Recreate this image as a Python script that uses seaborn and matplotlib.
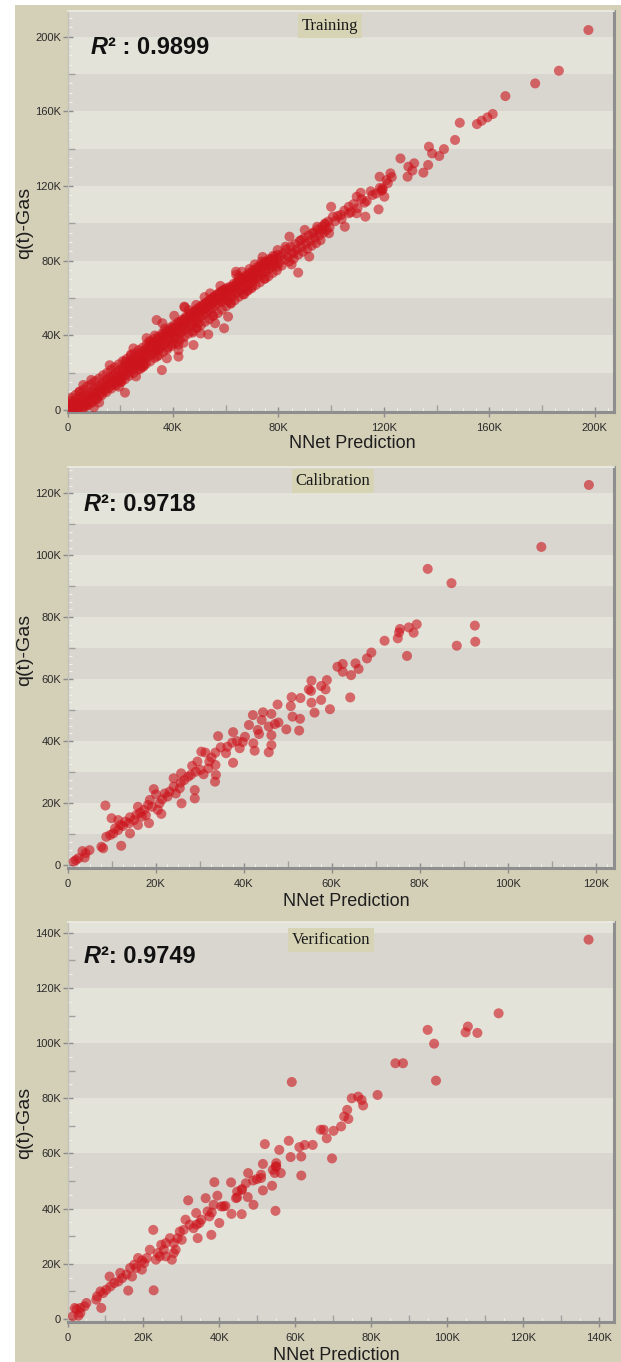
import numpy as np
import pandas as pd
import matplotlib
matplotlib.use("Agg")
import matplotlib.pyplot as plt
import seaborn as sns
from matplotlib.patches import Rectangle
from matplotlib.ticker import MultipleLocator, FuncFormatter

# ---------------- data (values in thousands) ----------------
titles = ["Training", "Calibration", "Verification"]
r2_values = ["0.9899", "0.9718", "0.9749"]
r2_seps = [" : ", ": ", ": "]
x_label = "NNet Prediction"
y_label = "q(t)-Gas"

train_band_0_20 = [
    (0.3, 1.0), (0.5, 3.5), (1.0, 2.0), (1.2, 5.0), (1.8, 0.8), (2.0, 3.2), (2.5, 4.6), (2.7, 1.5),
    (3.1, 2.8), (3.5, 5.9), (3.8, 0.9), (4.2, 4.0), (4.6, 2.3), (5.0, 6.8), (5.3, 3.9), (5.7, 1.8),
    (6.1, 5.4), (6.4, 7.9), (6.8, 4.2), (7.2, 2.9), (7.5, 6.6), (7.9, 9.0), (8.3, 5.1), (8.6, 7.7),
    (9.0, 3.8), (9.4, 10.1), (9.8, 6.9), (10.1, 8.8), (10.5, 11.5), (10.9, 5.9), (11.3, 9.6),
    (11.7, 12.4), (12.0, 7.8), (12.4, 10.9), (12.8, 13.6), (13.1, 9.2), (13.5, 12.0), (13.9, 15.1),
    (14.2, 10.4), (14.6, 13.3), (15.0, 16.4), (15.4, 11.6), (15.7, 14.2), (16.1, 17.3), (16.5, 12.9),
    (16.9, 15.6), (17.2, 18.6), (17.6, 14.0), (18.0, 16.8), (18.4, 20.1), (18.7, 15.3), (19.1, 17.9),
    (19.5, 21.2), (19.9, 16.6),
    (1.5, 6.6), (3.0, 8.0), (4.5, 9.6), (6.0, 10.9), (7.5, 12.6), (9.0, 13.9), (10.5, 15.5),
    (12.0, 16.9), (13.5, 18.6), (15.0, 19.9), (16.5, 21.6), (18.0, 22.9), (19.5, 24.5),
    (2.2, -0.5), (4.0, -0.1), (5.8, 0.9), (7.6, 2.5), (9.4, 4.3), (11.2, 6.0), (13.0, 7.9),
    (14.8, 9.6), (16.6, 11.5), (18.4, 13.2),
]
train_band_20_40 = [
    (20.3, 19.0), (20.7, 22.4), (21.0, 17.8), (21.4, 20.6), (21.8, 23.7), (22.2, 19.1), (22.5, 21.8),
    (22.9, 25.0), (23.3, 20.3), (23.7, 23.1), (24.0, 26.2), (24.4, 21.6), (24.8, 24.4), (25.2, 27.5),
    (25.5, 22.9), (25.9, 25.6), (26.3, 28.8), (26.7, 24.1), (27.0, 26.9), (27.4, 30.0), (27.8, 25.4),
    (28.2, 28.1), (28.5, 31.3), (28.9, 26.6), (29.3, 29.4), (29.7, 32.5), (30.0, 27.9), (30.4, 30.7),
    (30.8, 33.8), (31.2, 29.1), (31.5, 31.9), (31.9, 35.1), (32.3, 30.3), (32.7, 33.2), (33.0, 36.4),
    (33.4, 31.6), (33.8, 34.5), (34.2, 37.6), (34.5, 32.9), (34.9, 35.8), (35.3, 38.9), (35.7, 34.1),
    (36.0, 37.0), (36.4, 40.2), (36.8, 35.4), (37.2, 38.3), (37.5, 41.4), (37.9, 36.6), (38.3, 39.6),
    (38.7, 42.7), (39.0, 37.9), (39.4, 40.8), (39.8, 44.0), (40.0, 35.5),
    (20.5, 15.2), (24.1, 29.8), (27.6, 22.0), (31.0, 36.9), (34.0, 28.7), (36.9, 43.6), (38.1, 33.5),
    (21.9, 26.0), (29.0, 24.2), (33.1, 39.9),
    (21.0, 26.2), (22.5, 27.4), (24.0, 29.1), (25.5, 30.4), (27.0, 32.1), (28.5, 33.4), (30.0, 35.1),
    (31.5, 36.4), (33.0, 38.2), (34.5, 39.4), (36.0, 41.1), (37.5, 42.4), (39.0, 44.2),
    (20.2, 15.0), (21.8, 16.5), (23.4, 18.3), (25.0, 19.8), (26.6, 21.5), (28.2, 23.0), (29.8, 24.7),
    (31.4, 26.1), (33.0, 27.9), (34.6, 29.4), (36.2, 31.1), (37.8, 32.5), (39.4, 34.3),
]
train_band_40_60 = [
    (40.2, 41.3), (40.6, 38.6), (41.0, 44.6), (41.3, 39.8), (41.7, 42.5), (42.1, 46.2), (42.5, 40.9),
    (42.8, 43.8), (43.2, 47.3), (43.6, 42.1), (44.0, 45.0), (44.3, 48.6), (44.7, 43.4), (45.1, 46.3),
    (45.5, 49.7), (45.8, 44.6), (46.2, 47.5), (46.6, 51.0), (47.0, 45.9), (47.3, 48.8), (47.7, 52.2),
    (48.1, 47.1), (48.5, 50.0), (48.8, 53.4), (49.2, 48.4), (49.6, 51.3), (50.0, 54.6), (50.3, 49.6),
    (50.7, 52.5), (51.1, 55.8), (51.5, 50.9), (51.8, 53.8), (52.2, 57.0), (52.6, 52.1), (53.0, 55.0),
    (53.3, 58.2), (53.7, 53.4), (54.1, 56.3), (54.5, 59.4), (54.8, 54.6), (55.2, 57.5), (55.6, 60.7),
    (56.0, 55.9), (56.3, 58.8), (56.7, 61.9), (57.1, 57.1), (57.5, 60.0), (57.8, 63.1), (58.2, 58.4),
    (58.6, 61.3), (59.0, 64.3), (59.3, 59.6), (59.7, 62.5),
    (42.0, 35.0), (46.0, 53.5), (49.0, 44.0), (52.0, 60.5), (55.0, 50.5), (58.0, 66.5), (44.5, 55.0),
    (47.5, 41.5),
    (40.5, 45.6), (42.0, 47.1), (43.5, 48.4), (45.0, 50.1), (46.5, 51.6), (48.0, 52.9), (49.5, 54.6),
    (51.0, 56.1), (52.5, 57.4), (54.0, 59.1), (55.5, 60.6), (57.0, 61.9), (58.5, 63.6),
    (41.0, 35.9), (42.6, 37.6), (44.2, 39.1), (45.8, 40.9), (47.4, 42.3), (49.0, 44.1), (50.6, 45.5),
    (52.2, 47.3), (53.8, 48.7), (55.4, 50.5), (57.0, 51.9), (58.6, 53.7),
]
train_band_60_80 = [
    (60.1, 60.8), (60.5, 63.7), (60.9, 58.5), (61.3, 62.2), (61.7, 65.3), (62.1, 60.4), (62.5, 63.6),
    (62.9, 66.4), (63.3, 61.8), (63.7, 64.9), (64.1, 67.7), (64.5, 63.1), (64.9, 66.1), (65.3, 69.0),
    (65.7, 64.4), (66.1, 67.4), (66.5, 70.2), (66.9, 65.6), (67.3, 68.6), (67.7, 71.4), (68.1, 66.9),
    (68.5, 69.8), (68.9, 72.6), (69.3, 68.1), (69.7, 71.0), (70.1, 73.8), (70.5, 69.4), (70.9, 72.3),
    (71.3, 75.0), (71.7, 70.6), (72.1, 73.5), (72.5, 76.1), (72.9, 71.9), (73.3, 74.7), (73.7, 77.3),
    (74.1, 73.1), (74.5, 76.0), (74.9, 78.5), (75.3, 74.4), (75.7, 77.2), (76.1, 79.6), (76.5, 75.6),
    (76.9, 78.4), (77.3, 80.8), (77.7, 76.9), (78.1, 79.6), (78.5, 82.0), (78.9, 78.1), (79.3, 80.9),
    (79.7, 83.2),
    (62.0, 57.0), (67.0, 62.0), (71.0, 78.0), (65.0, 71.5), (75.0, 70.5), (69.0, 75.5),
    (60.0, 64.6), (61.5, 66.0), (63.0, 67.6), (64.5, 68.9), (66.0, 70.6), (67.5, 71.9), (69.0, 73.6),
    (70.5, 74.9), (72.0, 76.6), (73.5, 77.9), (75.0, 79.6), (76.5, 80.9), (78.0, 82.6),
    (60.2, 55.6), (61.8, 57.4), (63.4, 58.8), (65.0, 60.6), (66.6, 62.0), (68.2, 63.8), (69.8, 65.2),
    (71.4, 67.0), (73.0, 68.4), (74.6, 70.2), (76.2, 71.6), (77.8, 73.4), (79.4, 74.8),
]
train_band_80_125 = [
    (80.2, 79.0), (80.8, 82.5), (81.3, 77.4), (81.9, 84.0), (82.4, 80.6), (83.0, 86.1), (83.6, 82.2),
    (84.1, 79.5), (84.7, 87.5), (85.3, 84.3), (85.8, 81.0), (86.4, 88.9), (87.0, 86.0), (87.5, 83.2),
    (88.1, 90.6), (88.7, 87.4), (89.2, 84.8), (89.8, 92.2), (90.4, 89.1), (90.9, 86.3), (91.5, 93.5),
    (92.1, 90.6), (92.6, 88.0), (93.2, 95.1), (93.8, 92.3), (94.3, 89.4), (94.9, 96.8), (95.5, 93.6),
    (96.0, 91.0), (96.6, 98.2), (97.2, 95.1), (97.7, 99.5), (98.3, 96.5), (98.9, 101.0), (99.4, 97.9),
    (101.5, 101.2), (102.5, 104.0), (104.0, 102.3), (105.0, 106.8), (107.5, 106.0), (108.5, 110.3),
    (110.0, 108.2), (111.5, 113.0), (113.5, 112.0), (115.0, 117.2), (117.0, 116.0), (118.5, 119.0),
    (119.5, 118.0), (121.5, 121.5), (123.0, 124.8),
]
train_fringe = [
    (47.8, 34.8), (37.7, 27.7), (28.8, 23.2), (20.0, 16.1), (70.0, 66.1), (25.0, 33.0), (30.0, 38.5),
    (40.5, 50.5), (16.0, 24.0), (12.0, 4.0), (50.5, 41.0), (56.0, 46.5), (64.0, 72.5), (74.0, 82.0),
    (85.0, 78.0), (90.0, 96.5), (36.0, 46.5), (44.0, 36.0), (10.0, 1.5), (26.0, 18.0),
]
train_outliers = [
    (197.6, 203.6), (186.4, 181.8), (177.4, 175.0), (166.1, 168.2), (161.3, 158.6), (159.3, 156.8),
    (157.1, 155.0), (155.3, 153.2), (148.8, 153.9), (147.0, 144.7), (142.8, 139.8), (141.0, 136.1),
    (137.1, 141.1), (138.3, 137.5), (136.8, 131.3), (135.0, 127.2), (131.5, 132.2), (129.3, 130.4),
    (129.0, 125.0), (126.3, 134.8), (130.8, 128.3), (122.5, 126.8), (121.0, 123.2), (118.4, 125.0),
    (119.5, 118.8), (119.0, 117.5), (120.2, 114.3), (118.0, 107.5), (115.7, 115.2), (112.7, 111.1),
    (111.2, 116.4), (109.7, 114.3), (113.0, 103.6), (109.7, 105.4), (106.7, 108.9), (106.7, 105.4),
    (105.2, 98.2), (103.7, 104.5), (100.0, 108.9), (100.7, 103.6), (99.2, 94.7), (97.7, 100.0),
    (96.2, 96.4), (94.7, 98.2), (93.2, 94.7), (91.7, 82.2), (87.5, 73.6), (88.7, 91.1), (84.2, 92.9),
    (85.7, 83.9), (79.7, 76.8), (79.7, 85.7), (82.7, 87.5), (78.2, 80.4), (73.6, 79.5), (70.6, 71.4),
    (66.1, 74.1), (63.9, 74.1), (68.4, 64.3), (60.1, 65.2), (58.6, 58.0), (60.9, 50.0), (54.1, 62.5),
    (48.8, 56.3), (44.3, 55.4), (49.6, 46.4), (53.4, 40.5), (59.4, 43.8), (33.8, 48.2), (42.1, 32.1),
    (42.1, 28.6), (35.8, 21.4), (34.6, 32.1), (21.8, 9.3), (19.5, 12.5), (6.0, 13.4), (9.0, 16.1),
    (4.5, 9.8), (6.8, 1.8),
]

calib_points = [
    (118.4, 122.7), (107.6, 102.7), (81.8, 95.6), (87.2, 91.0), (92.5, 77.3), (92.6, 72.1), (88.4, 70.8),
    (79.3, 77.7), (78.6, 75.0), (77.5, 76.7), (75.5, 76.2), (75.3, 75.1), (75.0, 73.2), (77.1, 67.5),
    (72.0, 72.4), (69.0, 68.6), (68.0, 66.7), (66.1, 63.3), (65.4, 65.1), (64.4, 61.3), (64.2, 54.1),
    (62.5, 64.9), (61.3, 64.0), (62.5, 62.4), (58.9, 59.7), (58.6, 56.7), (57.6, 57.8), (59.6, 50.3),
    (55.4, 59.5), (55.3, 56.2), (54.8, 56.7), (57.6, 53.3), (56.1, 49.2), (55.4, 52.4), (52.9, 53.9),
    (50.9, 54.2), (50.7, 51.3), (51.1, 47.9), (52.8, 47.2), (52.6, 43.4), (49.7, 43.8), (47.7, 51.8),
    (47.9, 46.0), (47.1, 45.5), (46.3, 48.8), (45.7, 44.7), (46.3, 41.9), (46.3, 38.7), (45.7, 36.4),
    (44.4, 49.3), (44.1, 46.8), (42.1, 48.4), (43.2, 43.6), (43.5, 42.3), (42.2, 39.3), (42.5, 36.9),
    (41.2, 45.2), (40.3, 41.4), (39.8, 39.7), (38.5, 40.0), (39.1, 37.7), (37.6, 42.9), (37.4, 39.5),
    (36.3, 38.2), (36.0, 36.1), (37.6, 33.0), (34.2, 41.6), (34.8, 38.0), (33.6, 36.3), (32.7, 34.7),
    (32.2, 33.4), (31.3, 36.3), (30.4, 36.6), (33.6, 32.3), (33.7, 29.1), (33.5, 26.9), (32.0, 31.2),
    (29.5, 33.4), (30.2, 30.7), (30.9, 29.3), (29.1, 30.1), (28.3, 32.0), (28.0, 29.1), (28.9, 24.2),
    (28.9, 21.5), (27.4, 28.5), (26.5, 27.4), (25.8, 29.6), (25.7, 26.6), (25.5, 24.8), (24.1, 28.0),
    (24.1, 25.3), (24.6, 23.1), (25.9, 19.9), (23.2, 23.7), (22.7, 22.1), (22.1, 23.1), (21.5, 21.2),
    (20.9, 19.9), (20.1, 22.8), (19.6, 24.5), (18.7, 21.0), (19.2, 18.8), (21.3, 16.5), (18.3, 19.4),
    (17.4, 17.8), (17.8, 16.1), (18.5, 13.5), (16.5, 16.9), (15.6, 16.1), (15.1, 14.5), (14.2, 15.4),
    (14.0, 13.5), (13.1, 14.0), (12.6, 12.6), (12.0, 12.9), (11.5, 11.3), (10.8, 11.8), (10.4, 10.2),
    (9.7, 9.7), (8.8, 9.1), (10.0, 15.1), (8.6, 19.2), (14.2, 10.2), (12.2, 6.2), (7.7, 5.9), (8.1, 5.4),
    (5.0, 4.8), (4.1, 3.8), (3.4, 4.5), (3.9, 2.4), (2.5, 2.2), (1.9, 1.6), (1.4, 1.1), (11.5, 14.5),
    (16.0, 18.8), (20.5, 17.8), (16.0, 12.9), (16.9, 15.6),
]

verif_points = [
    (137.3, 137.5), (113.6, 110.8), (105.5, 106.0), (104.9, 103.9), (108.0, 103.7), (94.9, 104.8),
    (96.6, 99.8), (97.1, 86.4), (86.4, 92.7), (88.4, 92.7), (81.7, 81.2), (74.9, 80.0), (76.6, 80.6),
    (77.5, 79.4), (77.9, 77.4), (73.7, 75.8), (72.9, 73.4), (74.0, 72.5), (72.1, 69.8), (70.1, 68.2),
    (66.7, 68.6), (67.5, 68.6), (68.3, 65.5), (69.7, 58.2), (59.1, 85.9), (58.3, 64.6), (64.6, 63.1),
    (62.5, 63.1), (61.1, 62.3), (61.6, 58.9), (58.8, 58.7), (61.6, 52.0), (55.8, 61.3), (52.0, 63.4),
    (51.5, 56.2), (54.9, 55.3), (54.6, 52.9), (54.1, 54.1), (56.2, 52.9), (53.9, 48.3), (54.8, 39.2),
    (51.5, 46.6), (51.0, 51.1), (49.9, 50.7), (48.9, 50.2), (47.6, 52.9), (47.0, 49.2), (45.9, 46.8),
    (46.0, 47.1), (49.0, 41.4), (47.5, 44.2), (44.7, 44.1), (44.4, 43.8), (43.1, 49.5), (45.9, 38.0),
    (43.2, 38.1), (41.6, 41.0), (41.1, 40.8), (38.7, 49.6), (39.5, 44.7), (38.5, 41.4), (38.0, 38.6),
    (40.0, 34.8), (37.9, 30.5), (36.4, 43.8), (36.9, 39.0), (35.3, 36.0), (33.9, 38.4), (34.0, 34.2),
    (34.3, 29.3), (31.8, 43.0), (31.1, 36.0), (32.2, 34.2), (30.6, 32.3), (29.6, 31.7), (29.0, 29.3),
    (28.0, 27.5), (28.5, 25.1), (27.5, 21.5), (27.0, 29.3), (25.9, 27.5), (25.4, 25.1), (24.7, 26.9),
    (24.3, 22.7), (23.8, 23.9), (23.3, 21.5), (22.6, 32.3), (22.7, 10.4), (21.7, 25.1), (20.9, 22.1),
    (20.2, 20.3), (19.6, 21.2), (18.6, 22.1), (18.1, 18.5), (17.6, 19.7), (16.5, 18.5), (17.0, 15.4),
    (16.0, 10.3), (15.5, 16.1), (14.4, 14.8), (13.4, 13.6), (13.9, 16.7), (12.3, 13.0), (11.1, 15.4),
    (11.3, 11.8), (10.2, 10.6), (9.4, 9.4), (8.7, 10.0), (7.8, 8.2), (7.6, 7.0), (8.9, 4.0), (5.0, 5.8),
    (4.5, 4.6), (3.4, 4.0), (3.4, 2.2), (2.4, 3.6), (1.9, 4.0), (1.4, 1.0), (2.9, 1.2), (19.6, 17.9),
    (25.9, 22.7), (28.0, 23.9), (30.1, 28.7), (33.2, 32.9), (34.8, 34.8), (37.4, 37.2), (40.5, 40.8),
    (44.7, 46.2), (55.0, 55.3), (55.0, 56.5), (51.0, 52.3),
]

train_points = (train_band_0_20 + train_band_20_40 + train_band_40_60 + train_band_60_80
                + train_band_80_125 + train_fringe + train_outliers)
datasets = [train_points, calib_points, verif_points]

# ---------------- styling ----------------
W, H = 621, 1362
BEIGE = "#d4cfb7"
DARK_BAND = "#d8d6cf"
LIGHT_BAND = "#e4e3da"
TITLE_BOX = "#d6d4b5"
POINT = "#cc141c"
SANS = ["Liberation Sans", "DejaVu Sans"]
SERIF = ["Liberation Serif", "DejaVu Serif"]

# panel geometry in pixels: (left, top, right, bottom)
panel_px = [(67.5, 11, 614, 412), (67.5, 467, 614, 868), (67.5, 922, 614, 1322)]
xlims = [(0, 207300), (0, 124100), (0, 144000)]
ylims = [(-1070, 213800), (-970, 128500), (-1090, 143900)]
label_steps = [40000, 20000, 20000]
mid_steps = [20000, 10000, 10000]
stripe_steps = [20000, 10000, 20000]
light_steps = [5000, 2500, 5000]
title_pos = [(0.481, 0.963), (0.486, 0.965), (0.482, 0.955)]
r2_pos = [(0.043, 0.880), (0.030, 0.878), (0.030, 0.884)]
ylabel_y = [0.471, 0.544, 0.497]
xlabel_x = [0.521, 0.510, 0.491]
xlabel_y = [-0.058, -0.063, -0.063]


def kfmt(v, pos):
    if abs(v) < 1:
        return "0"
    return f"{int(round(v / 1000))}K"


fig = plt.figure(figsize=(W / 100, H / 100), dpi=100)
fig.patch.set_facecolor("white")
fig.add_artist(Rectangle((15 / W, 0), 1 - 15 / W, (H - 5) / H, transform=fig.transFigure,
                         facecolor=BEIGE, edgecolor="none", zorder=-10))

for i, pts in enumerate(datasets):
    l, t, r, b = panel_px[i]
    ax = fig.add_axes([l / W, 1 - b / H, (r - l) / W, (b - t) / H])
    ax.set_facecolor(DARK_BAND)
    ax.set_xlim(*xlims[i])
    ax.set_ylim(*ylims[i])

    # alternating horizontal bands
    edges = np.arange(0, ylims[i][1] + stripe_steps[i], stripe_steps[i])
    for k, lo in enumerate(edges):
        if k % 2 == 1:
            ax.axhspan(lo, lo + stripe_steps[i], color=LIGHT_BAND, lw=0, zorder=0)

    df = pd.DataFrame(pts, columns=["pred", "actual"]) * 1000
    sns.scatterplot(data=df, x="pred", y="actual", ax=ax, color=POINT, alpha=0.6,
                    s=52, edgecolor="none", linewidth=0, zorder=3, legend=False)

    # ticks
    for axis in (ax.xaxis, ax.yaxis):
        axis.set_major_locator(MultipleLocator(label_steps[i]))
        axis.set_minor_locator(MultipleLocator(mid_steps[i]))
        axis.set_major_formatter(FuncFormatter(kfmt))
    ax.tick_params(which="major", direction="inout", length=7, width=1, color="#8c8c8c",
                   labelsize=8, labelcolor="#2a2a2a")
    ax.tick_params(axis="x", which="major", pad=4.5)
    ax.tick_params(axis="y", which="major", pad=1.2)
    ax.tick_params(which="minor", direction="in", length=5, width=1, color="#a0a0a0")
    for lab in ax.get_xticklabels() + ax.get_yticklabels():
        lab.set_family(SANS)

    secx = ax.secondary_xaxis("bottom")
    secx.xaxis.set_major_locator(MultipleLocator(light_steps[i]))
    secx.tick_params(axis="x", direction="in", length=3, width=0.8, color="#f3f3ec",
                     labelbottom=False)
    secx.spines["bottom"].set_visible(False)
    secy = ax.secondary_yaxis("left")
    secy.yaxis.set_major_locator(MultipleLocator(light_steps[i]))
    secy.tick_params(axis="y", direction="in", length=3, width=0.8, color="#f3f3ec",
                     labelleft=False)
    secy.spines["left"].set_visible(False)

    # spines (bevel look)
    ax.spines["bottom"].set_color("#8e8e8e")
    ax.spines["bottom"].set_linewidth(2.2)
    ax.spines["right"].set_color("#8e8e8e")
    ax.spines["right"].set_linewidth(2.2)
    ax.spines["left"].set_color("#c2c2ba")
    ax.spines["left"].set_linewidth(1.0)
    ax.spines["top"].set_color("#ececE4")
    ax.spines["top"].set_linewidth(1.2)

    # labels
    ax.set_xlabel(x_label, fontsize=13, family=SANS, color="#1e1e1e")
    ax.set_ylabel(y_label, fontsize=14, family=SANS, color="#1e1e1e")
    ax.xaxis.set_label_coords(xlabel_x[i], xlabel_y[i])
    ax.yaxis.set_label_coords(-0.062, ylabel_y[i])

    # title box
    ax.text(title_pos[i][0], title_pos[i][1], titles[i], transform=ax.transAxes,
            ha="center", va="center", fontsize=12, family=SERIF, color="#1a1a1a", zorder=6,
            bbox=dict(boxstyle="square,pad=0.22", fc=TITLE_BOX, ec="none"))

    # R^2 annotation
    t1 = ax.text(r2_pos[i][0], r2_pos[i][1], "R", transform=ax.transAxes, ha="left",
                 va="bottom", fontsize=17, fontweight="bold", style="italic",
                 family=SANS, color="#111111", zorder=6)
    ax.annotate("\u00b2" + r2_seps[i] + r2_values[i], xy=(1, 0), xycoords=t1,
                ha="left", va="bottom", fontsize=17, fontweight="bold", family=SANS,
                color="#111111", zorder=6)

fig.savefig("out.png", dpi=100, facecolor=fig.get_facecolor())
